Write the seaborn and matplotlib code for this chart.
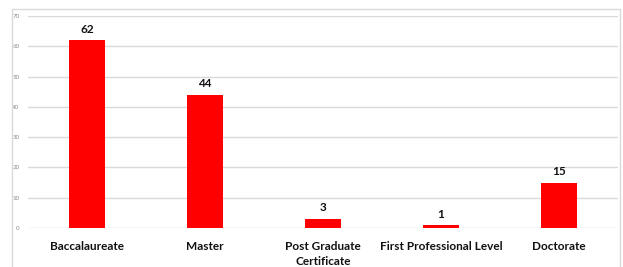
import matplotlib
matplotlib.use("Agg")
import matplotlib.pyplot as plt
import seaborn as sns
import pandas as pd
from matplotlib.patches import Rectangle

categories = ["Baccalaureate", "Master", "Post Graduate\nCertificate", "First Professional Level", "Doctorate"]
values = [62, 44, 3, 1, 15]
yticks = [0, 10, 20, 30, 40, 50, 60, 70]

sns.set_theme(style="white")
plt.rcParams['font.family'] = ['Lato', 'DejaVu Sans']

df = pd.DataFrame({"cat": categories, "val": values})

fig = plt.figure(figsize=(6.23, 2.67), dpi=100)
ax = fig.add_axes([28/623, 39/267, 590/623, (228-16)/267])

sns.barplot(data=df, x="cat", y="val", color="#ff0000", width=0.31, ax=ax, saturation=1)
for p in ax.patches:
    p.set_edgecolor("none")

ax.set_ylim(0, 70)
ax.set_yticks(yticks)
ax.set_yticklabels([str(t) for t in yticks], fontsize=4.5, color="#8c8c8c")
ax.yaxis.grid(True, color="#d9d9d9", linewidth=1)
ax.set_axisbelow(True)
for s in ax.spines.values():
    s.set_visible(False)
ax.tick_params(axis="both", length=0)
ax.tick_params(axis="y", pad=6)
ax.tick_params(axis="x", pad=9.5)
ax.set_xticks(range(len(categories)))
ax.set_xticklabels(categories, fontsize=8.5, fontweight="bold", color="#111111", linespacing=1.4)
ax.set_xlabel("")
ax.set_ylabel("")

for i, v in enumerate(values):
    ax.text(i, v + 1.8, str(v), ha="center", va="bottom", fontsize=8.5, fontweight="bold", color="#111111")

fig.patches.append(Rectangle((12/623, -0.1), (620-12)/623, (267-9)/267 + 0.1,
                             transform=fig.transFigure, fill=False,
                             edgecolor="#d9d9d9", linewidth=1))

fig.savefig("out.png", dpi=100)
